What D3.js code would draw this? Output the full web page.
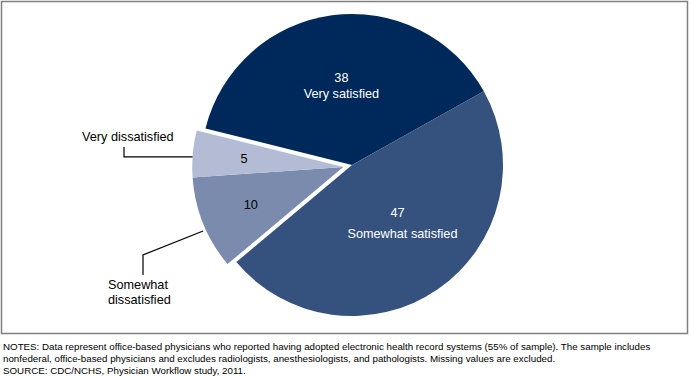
<!DOCTYPE html>
<html lang="en">
<head>
<meta charset="UTF-8">
<title>Physician satisfaction with EHR systems</title>
<script src="https://d3js.org/d3.v7.min.js"></script>
<style>
  body { margin: 0; background: #fff; font-family: "Liberation Sans", Arial, sans-serif; }
  svg text { font-family: "Liberation Sans", Arial, sans-serif; }
</style>
</head>
<body>
<div id="chart"></div>
<script>
// data
const categories = ["Very satisfied", "Somewhat satisfied", "Somewhat dissatisfied", "Very dissatisfied"];
const values = [38, 47, 10, 5];
const colors = ["#00295b", "#35527f", "#7a8bae", "#b3bbd5"];
const notes = [
  "NOTES: Data represent office-based physicians who reported having adopted electronic health record systems (55% of sample). The sample includes",
  "nonfederal, office-based physicians and excludes radiologists, anesthesiologists, and pathologists. Missing values are excluded.",
  "SOURCE: CDC/NCHS, Physician Workflow study, 2011."
];

const W = 691, H = 376;
const fs = 12.7;
const svg = d3.select("#chart").append("svg").attr("width", W).attr("height", H);

// frame
svg.append("rect")
  .attr("x", 1.5).attr("y", 1.5).attr("width", 686).attr("height", 332)
  .attr("fill", "none").attr("stroke", "#7f7f7f").attr("stroke-width", 1.5);

const cx = 352, cy = 165, r = 151;
const start = -76 * Math.PI / 180;

const data = categories.map((c, i) => ({ name: c, value: values[i], color: colors[i] }));
const arcs = d3.pie().value(d => d.value).sort(null)
  .startAngle(start).endAngle(start + 2 * Math.PI)(data);

const arc = d3.arc().innerRadius(0).outerRadius(r);

// small slices pulled out together
const small = arcs.filter(a => a.data.value < 20);
const midSmall = (d3.min(small, a => a.startAngle) + d3.max(small, a => a.endAngle)) / 2;
const [ox, oy] = d3.pointRadial(midSmall, 9);

const g = svg.append("g").attr("transform", `translate(${cx},${cy})`);

const slice = g.selectAll("g.slice").data(arcs).join("g")
  .attr("class", "slice")
  .attr("transform", d => d.data.value < 20 ? `translate(${ox},${oy})` : null);

slice.append("path")
  .attr("d", arc)
  .attr("fill", d => d.data.color);

// in-slice labels
slice.each(function(d) {
  const big = d.data.value >= 20;
  const rad = big ? r * 0.53 : r * 0.66;
  const [x, y] = d3.pointRadial((d.startAngle + d.endAngle) / 2, rad);
  const t = d3.select(this).append("text")
    .attr("text-anchor", "middle")
    .attr("font-size", fs)
    .attr("fill", big ? "#fff" : "#000");
  if (big) {
    const wide = d.data.value > 40;
    const y1 = wide ? y - 14 : y - 4;
    const y2 = wide ? y + 7 : y + 12;
    t.append("tspan").attr("x", x).attr("y", y1).text(d.data.value);
    t.append("tspan").attr("x", x + (wide ? 5 : 0)).attr("y", y2).text(d.data.name);
  } else {
    t.attr("x", x).attr("y", y + 5).text(d.data.value);
  }
});

// callouts for the small slices
const vd = arcs.find(a => a.data.name === "Very dissatisfied");
const [vx, vy] = d3.pointRadial((vd.startAngle + vd.endAngle) / 2 - 0.02, r);
const p1 = [cx + ox + vx, cy + oy + vy];
svg.append("path")
  .attr("d", d3.line()([p1, [124, p1[1]], [124, p1[1] - 10]]))
  .attr("fill", "none").attr("stroke", "#000").attr("stroke-width", 1.2);
svg.append("text").attr("x", 82).attr("y", 141).attr("font-size", fs).text("Very dissatisfied");

const sd = arcs.find(a => a.data.name === "Somewhat dissatisfied");
const [sx, sy] = d3.pointRadial(sd.startAngle + (sd.endAngle - sd.startAngle) * 0.43, r + 3);
const p2 = [cx + ox + sx, cy + oy + sy];
svg.append("path")
  .attr("d", d3.line()([p2, [143, 255], [143, 275]]))
  .attr("fill", "none").attr("stroke", "#000").attr("stroke-width", 1.2);
const sdt = svg.append("text").attr("font-size", fs);
sdt.append("tspan").attr("x", 108).attr("y", 289).text("Somewhat");
sdt.append("tspan").attr("x", 108).attr("y", 304).text("dissatisfied");

// notes
svg.append("g").selectAll("text").data(notes).join("text")
  .attr("x", 3).attr("y", (d, i) => 350 + i * 12)
  .attr("font-size", 9.75).attr("fill", "#000")
  .text(d => d);
</script>
</body>
</html>
